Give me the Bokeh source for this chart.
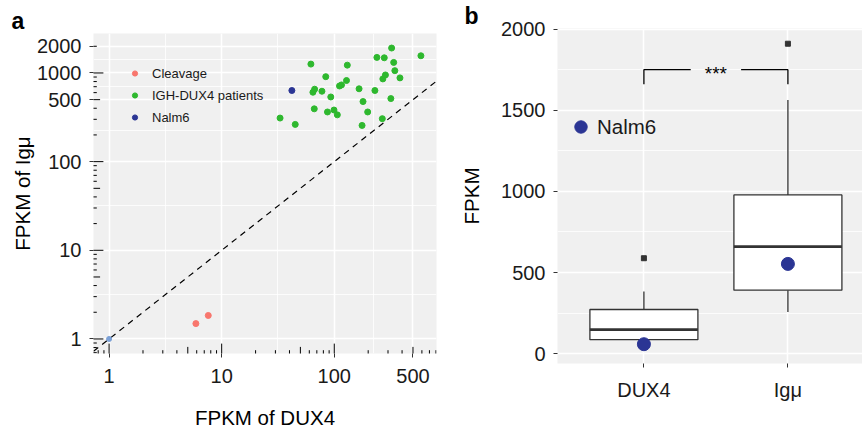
import numpy as np
from bokeh.plotting import figure
from bokeh.layouts import row
from bokeh.models import (Range1d, FixedTicker, Legend, LegendItem, Label, Title,
                          NumeralTickFormatter)
from bokeh.embed import file_html
from bokeh.resources import INLINE

# ---------------- data: panel a ----------------
patients_dux4 = [33, 45.0, 62.0, 64.6, 66.9, 66.4, 77.7, 84, 93.1, 87,
                 99.4, 106.4, 111.3, 115.9, 128.4, 130.5, 166, 180, 198, 176.5,
                 229.5, 239, 267, 270, 284.6, 278, 318, 323, 337, 345,
                 383, 588]
patients_igmu = [310, 263, 1259, 606, 656, 394, 622, 908, 536, 363,
                 382, 337, 713, 733, 822, 1225, 663, 476, 363, 256,
                 634, 1498, 305, 857, 950, 1483, 514, 1910, 1315, 1062,
                 880, 1563]
cleavage_dux4 = [5.9, 7.6]
cleavage_igmu = [1.49, 1.84]
nalm6_dux4 = [42]
nalm6_igmu = [634]
other_dux4 = [1.0]
other_igmu = [1.0]

a_xticks = [1, 10, 100, 500]
a_yticks = [1, 10, 100, 500, 1000, 2000]

# ---------------- data: panel b ----------------
b_categories = ["DUX4", "Igμ"]
b_values = [patients_dux4, patients_igmu]
b_nalm6 = [58, 553]
b_yticks = [0, 500, 1000, 1500, 2000]
b_signif = "***"
bracket_y = 1750
bracket_drop = 90

# ---------------- style ----------------
FONT = "Liberation Sans"
PANEL_BG = "#F0F0F0"
C_CLEAVAGE = "#F8766D"
C_PATIENT = "#2EB82E"
C_NALM6 = "#2B3594"
C_OTHER = "#7BA0D6"
TICK_C = "#333333"


def style(p):
    for ax in p.axis:
        ax.axis_line_color = None
        ax.major_tick_line_color = TICK_C
        ax.major_tick_line_width = 1
        ax.major_tick_out = 4
        ax.major_tick_in = 0
        ax.minor_tick_line_color = None
        ax.major_label_text_font = FONT
        ax.major_label_text_font_size = "20px"
        ax.major_label_text_color = "#1a1a1a"
        ax.axis_label_text_font = FONT
        ax.axis_label_text_font_size = "20.5px"
        ax.axis_label_text_font_style = "normal"
        ax.axis_label_text_color = "#000000"
    p.grid.grid_line_color = "white"
    p.grid.grid_line_width = 1.6
    p.grid.minor_grid_line_color = "white"
    p.grid.minor_grid_line_width = 0.8


def log_expand(vals, frac=0.05):
    lo, hi = np.log10(min(vals)), np.log10(max(vals))
    pad = (hi - lo) * frac
    return 10 ** (lo - pad), 10 ** (hi + pad)


def geo_mids(t):
    t = np.asarray(t, dtype=float)
    return list(np.sqrt(t[:-1] * t[1:]))


def panel_tag(text, offset):
    return Title(text=text, align="left", offset=offset, standoff=0,
                 text_font=FONT, text_font_size="23px",
                 text_font_style="bold", text_color="black")


# ================= panel a =================
xr = log_expand(patients_dux4 + cleavage_dux4 + nalm6_dux4 + other_dux4)
yr = log_expand(patients_igmu + cleavage_igmu + nalm6_igmu + other_igmu)

pa = figure(width=448, height=435, x_axis_type="log", y_axis_type="log",
            x_range=Range1d(*xr), y_range=Range1d(*yr),
            output_backend="svg", toolbar_location=None,
            min_border_left=93, min_border_right=12, min_border_top=33,
            min_border_bottom=82, background_fill_color=PANEL_BG,
            border_fill_color="white", outline_line_color=None,
            frame_align=False)
pa.title = panel_tag("a", -82)
style(pa)
pa.xaxis.ticker = FixedTicker(ticks=a_xticks, minor_ticks=[])
pa.yaxis.ticker = FixedTicker(ticks=a_yticks, minor_ticks=[])
pa.xaxis.formatter = NumeralTickFormatter(format="0")
pa.yaxis.formatter = NumeralTickFormatter(format="0")
pa.xgrid.ticker = FixedTicker(ticks=a_xticks, minor_ticks=geo_mids(a_xticks))
pa.ygrid.ticker = FixedTicker(ticks=a_yticks, minor_ticks=geo_mids(a_yticks))
pa.xaxis.axis_label = "FPKM of DUX4"
pa.yaxis.axis_label = "FPKM of Igμ"
pa.xaxis.major_label_standoff = 11
pa.xaxis.axis_label_standoff = 20
pa.yaxis.major_label_standoff = 8
pa.yaxis.axis_label_standoff = 0

# identity line
pa.line(x=list(xr), y=list(xr), line_color="black", line_width=1.2,
        line_dash="6 5")

r_cl = pa.scatter(cleavage_dux4, cleavage_igmu, size=6, color=C_CLEAVAGE)
r_pt = pa.scatter(patients_dux4, patients_igmu, size=6, color=C_PATIENT)
r_na = pa.scatter(nalm6_dux4, nalm6_igmu, size=6, color=C_NALM6)
pa.scatter(other_dux4, other_igmu, size=5, color=C_OTHER)


# log ticks (annotation_logticks style), half of each dash clipped by frame
def logticks(lo, hi):
    dec = 10.0 ** np.arange(np.floor(np.log10(lo)), np.ceil(np.log10(hi)) + 1)
    vals, lens = [], []
    for d in dec:
        for m in range(1, 10):
            v = m * d
            if lo <= v <= hi:
                vals.append(v)
                lens.append(9.9 if m == 1 else (6.6 if m == 5 else 3.3))
    return vals, lens


xv, xl = logticks(*xr)
pa.scatter(x=xv, y=[yr[0]] * len(xv), marker="dash", size=[2 * l for l in xl],
           angle=np.pi / 2, line_color="black", line_width=1, fill_color=None)
yv, yl = logticks(*yr)
pa.scatter(x=[xr[0]] * len(yv), y=yv, marker="dash", size=[2 * l for l in yl],
           angle=0, line_color="black", line_width=1, fill_color=None)

leg_a = Legend(items=[LegendItem(label="Cleavage", renderers=[r_cl]),
                      LegendItem(label="IGH-DUX4 patients", renderers=[r_pt]),
                      LegendItem(label="Nalm6", renderers=[r_na])],
               location=(35, 225), glyph_width=13, glyph_height=22,
               label_height=22, spacing=0, padding=0, margin=0,
               label_standoff=11, label_text_font=FONT,
               label_text_font_size="13px", label_text_color="#1a1a1a",
               background_fill_alpha=0, border_line_color=None)
pa.add_layout(leg_a)

# ================= panel b =================
xpos = [i + 1 for i in range(len(b_categories))]
stats = []
for vals in b_values:
    v = np.asarray(vals, dtype=float)
    q1, med, q3 = np.percentile(v, [25, 50, 75])
    iqr = q3 - q1
    inside = v[(v >= q1 - 1.5 * iqr) & (v <= q3 + 1.5 * iqr)]
    out = v[(v < q1 - 1.5 * iqr) | (v > q3 + 1.5 * iqr)]
    stats.append(dict(q1=q1, med=med, q3=q3, lo=inside.min(), hi=inside.max(),
                      out=list(out)))

all_b = b_nalm6[:]
for s in stats:
    all_b += [s["lo"], s["hi"]] + s["out"]
ymin, ymax = min(all_b), max(all_b)
pad = (ymax - ymin) * 0.05

pb = figure(width=414, height=435, x_range=Range1d(0.4, 2.518),
            y_range=Range1d(ymin - pad, ymax + pad),
            output_backend="svg", toolbar_location=None,
            min_border_left=109, min_border_right=0, min_border_top=28,
            min_border_bottom=72, background_fill_color=PANEL_BG,
            border_fill_color="white", outline_line_color=None,
            frame_align=False)
pb.title = panel_tag("b", -93)
style(pb)
pb.xaxis.ticker = FixedTicker(ticks=xpos, minor_ticks=[])
pb.xaxis.major_label_overrides = {x: c for x, c in zip(xpos, b_categories)}
pb.yaxis.ticker = FixedTicker(ticks=b_yticks, minor_ticks=[])
pb.xgrid.ticker = FixedTicker(ticks=xpos, minor_ticks=[])
pb.ygrid.ticker = FixedTicker(ticks=b_yticks,
                              minor_ticks=[(a + b) / 2 for a, b in zip(b_yticks[:-1], b_yticks[1:])])
pb.yaxis.axis_label = "FPKM"
pb.xaxis.major_label_standoff = 11
pb.yaxis.major_label_standoff = 8
pb.yaxis.axis_label_standoff = 15

bw = 0.75
q1s = [s["q1"] for s in stats]
q3s = [s["q3"] for s in stats]
meds = [s["med"] for s in stats]
pb.segment(x0=xpos, x1=xpos, y0=q3s, y1=[s["hi"] for s in stats],
           line_color=TICK_C, line_width=1.3)
pb.segment(x0=xpos, x1=xpos, y0=q1s, y1=[s["lo"] for s in stats],
           line_color=TICK_C, line_width=1.3)
pb.vbar(x=xpos, width=bw, bottom=q1s, top=q3s, fill_color="white",
        line_color=TICK_C, line_width=1.3)
pb.segment(x0=[x - bw / 2 for x in xpos], x1=[x + bw / 2 for x in xpos],
           y0=meds, y1=meds, line_color=TICK_C, line_width=2.7)
ox, oy = [], []
for x, s in zip(xpos, stats):
    ox += [x] * len(s["out"])
    oy += s["out"]
pb.scatter(ox, oy, marker="square", size=5, color=TICK_C)
r_nb = pb.scatter(xpos, b_nalm6, size=13, color=C_NALM6)

# significance bracket
sig_gap = 0.175
xm = (xpos[0] + xpos[1]) / 2
pb.line(x=[xpos[0], xpos[0], xm - sig_gap],
        y=[bracket_y - bracket_drop, bracket_y, bracket_y],
        line_color="black", line_width=1.3)
pb.line(x=[xm + sig_gap, xpos[1], xpos[1]],
        y=[bracket_y, bracket_y, bracket_y - bracket_drop],
        line_color="black", line_width=1.3)
pb.add_layout(Label(x=xm, y=bracket_y, text=b_signif, text_align="center",
                    text_baseline="middle", y_offset=-4, text_font=FONT,
                    text_font_size="19px", text_color="black"))

leg_b = Legend(items=[LegendItem(label="Nalm6", renderers=[r_nb])],
               location=(8, 221), glyph_width=31, glyph_height=31,
               label_height=31, spacing=0, padding=0, margin=0,
               label_standoff=1, label_text_font=FONT,
               label_text_font_size="20.5px", label_text_color="#1a1a1a",
               background_fill_alpha=0, border_line_color=None)
pb.add_layout(leg_b)

layout = row(pa, pb)
open("out.html", "w").write(file_html(layout, INLINE))
